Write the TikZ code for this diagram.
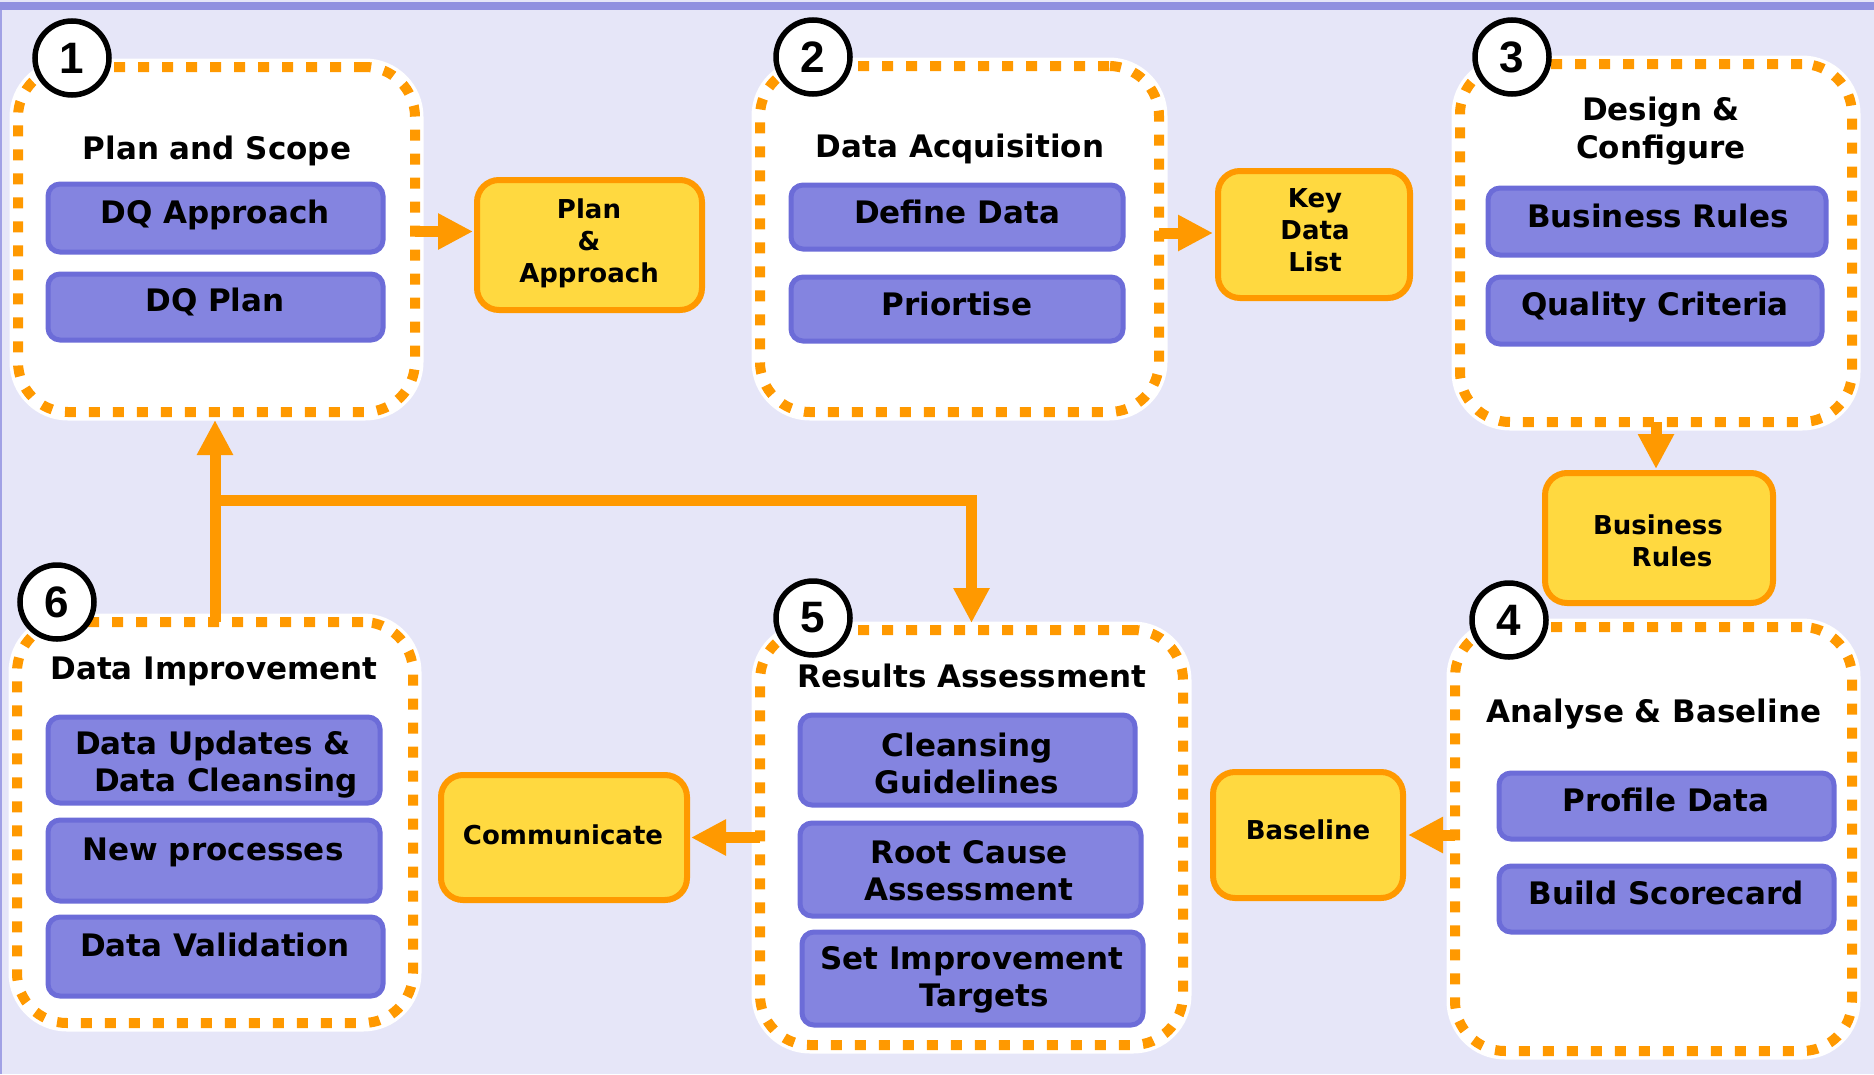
\documentclass[tikz,border=0pt]{standalone}
\usepackage{fontspec}
\setmainfont{DejaVu Sans}
\newfontfamily\numfont{Liberation Sans}
\usetikzlibrary{arrows.meta}

\definecolor{bgpurple}{RGB}{230,230,248}
\definecolor{strip}{RGB}{144,144,224}
\definecolor{orng}{RGB}{255,153,0}
\definecolor{yfill}{RGB}{255,217,64}
\definecolor{bfill}{RGB}{132,132,224}
\definecolor{bline}{RGB}{108,108,216}

\tikzset{
  panel/.style={rectangle, fill=white, draw=orng, line width=10pt,
    dash pattern=on 11pt off 13pt, rounded corners=50pt, inner sep=0pt, outer sep=0pt,
    preaction={draw=white, line width=17pt, solid}},
  stage/.style={circle, draw=black, fill=white, line width=5.5pt, minimum size=74pt,
    inner sep=0pt, outer sep=0pt, font=\numfont\bfseries\fontsize{44}{44}\selectfont},
  bbox/.style={rectangle, fill=bfill, draw=bline, line width=5pt, rounded corners=12pt,
    inner sep=0pt, outer sep=0pt},
  ybox/.style={rectangle, fill=yfill, draw=orng, line width=6pt, rounded corners=22pt,
    inner sep=0pt, outer sep=0pt},
  title/.style={inner sep=0pt, align=center, font=\bfseries\fontsize{31}{38}\selectfont},
  btext/.style={inner sep=0pt, align=center, font=\bfseries\fontsize{31}{37}\selectfont},
  ytext/.style={inner sep=0pt, align=center, font=\bfseries\fontsize{26}{32}\selectfont},
  flow/.style={draw=orng, line width=11pt, -{Triangle[length=35pt,width=34pt]}},
}

\begin{document}
\begin{tikzpicture}[x=1pt,y=-1pt]
\useasboundingbox (0,0) rectangle (1874,1074);
% canvas
\fill[bgpurple] (0,0) rectangle (1874,1074);
\fill[strip] (0,2) rectangle (1874,10);
\fill[strip!80!bgpurple] (0,10) rectangle (2,1074);

% stage panels
\node[panel, minimum width=397pt, minimum height=345pt] (p1) at (216.5,239.5) {};
\node[panel, minimum width=399pt, minimum height=346pt] (p2) at (959.5,239) {};
\node[panel, minimum width=392pt, minimum height=358pt] (p3) at (1656,243) {};
\node[panel, minimum width=397pt, minimum height=424pt] (p4) at (1653.5,839) {};
\node[panel, minimum width=423pt, minimum height=415pt] (p5) at (971.5,837.5) {};
\node[panel, minimum width=396pt, minimum height=401pt] (p6) at (215,822.5) {};

% panel titles
\node[title] (t1) at (217,151) {Plan and Scope};
\node[title] (t2) at (960,149) {Data Acquisition};
\node[title] (t3) at (1661,131) {Design \&\\Configure};
\node[title] (t4) at (1654,714) {Analyse \& Baseline};
\node[title] (t5) at (972,676) {Results Assessment};
\node[title] (t6) at (214,671) {Data Improvement};

% activity boxes
\node[bbox, minimum width=335pt, minimum height=68pt] (b11) at (215.5,218) {};
\node[bbox, minimum width=335pt, minimum height=66pt] (b12) at (215.5,307) {};
\node[bbox, minimum width=332pt, minimum height=64pt] (b21) at (957,217) {};
\node[bbox, minimum width=332pt, minimum height=64pt] (b22) at (957,309) {};
\node[bbox, minimum width=338pt, minimum height=67pt] (b31) at (1657,221.5) {};
\node[bbox, minimum width=334pt, minimum height=67pt] (b32) at (1655,310.5) {};
\node[bbox, minimum width=335pt, minimum height=66pt] (b41) at (1666.5,806) {};
\node[bbox, minimum width=335pt, minimum height=66pt] (b42) at (1666.5,899) {};
\node[bbox, minimum width=335pt, minimum height=90pt] (b51) at (967.5,760) {};
\node[bbox, minimum width=341pt, minimum height=93pt] (b52) at (970.5,869.5) {};
\node[bbox, minimum width=341pt, minimum height=93pt] (b53) at (972.5,978.5) {};
\node[bbox, minimum width=332pt, minimum height=86pt] (b61) at (214,760) {};
\node[bbox, minimum width=332pt, minimum height=81pt] (b62) at (214,860.5) {};
\node[bbox, minimum width=335pt, minimum height=79pt] (b63) at (215.5,956.5) {};

\node[btext] (l11) at (215,215) {DQ Approach};
\node[btext] (l12) at (215,302) {DQ Plan};
\node[btext] (l21) at (957,212) {Define Data};
\node[btext] (l22) at (957,304) {Priortise};
\node[btext] (l31) at (1658,216) {Business Rules};
\node[btext] (l32) at (1655,307) {Quality Criteria};
\node[btext] (l41) at (1666,800) {Profile Data};
\node[btext] (l42) at (1666,893) {Build Scorecard};
\node[btext] (l51) at (967,763) {Cleansing\\Guidelines};
\node[btext] (l52) at (969,871) {Root Cause\\Assessment};
\node[btext] (l53) at (972,980) {Set Improvement\\\hspace*{24pt}Targets};
\node[btext] (l61) at (213,765) {Data Updates \&\\\hspace*{26pt}Data Cleansing};
\node[btext] (l62) at (213,852) {New processes};
\node[btext] (l63) at (215,945) {Data Validation};

% deliverables
\node[ybox, minimum width=225pt, minimum height=130pt] (pa) at (589.5,245) {};
\node[ybox, minimum width=192pt, minimum height=127pt] (kdl) at (1314,234.5) {};
\node[ybox, minimum width=228pt, minimum height=130pt] (bry) at (1659,538) {};
\node[ybox, minimum width=190pt, minimum height=126pt] (bl) at (1308,835) {};
\node[ybox, minimum width=246pt, minimum height=125pt] (comm) at (564,837.5) {};

\node[ytext] (pat) at (589,243) {Plan\\\&\\Approach};
\node[ytext] (kdlt) at (1315,230) {Key\\Data\\List};
\node[ytext] (bryt) at (1658,541) {Business\\\hspace*{28pt}Rules};
\node[ytext] (blt) at (1308,830) {Baseline};
\node[ytext] (commt) at (563,835) {Communicate};

% flow between stages
\draw[flow, shorten >=4pt] ([yshift=8pt]p1.east) -- ([yshift=8pt]p1.east -| pa.west);
\draw[flow, shorten >=5pt] ([yshift=6pt]p2.east) -- ([yshift=6pt]p2.east -| kdl.west);
\draw[flow, shorten >=4pt] (p3.south) -- (p3.south |- bry.north);
\draw[flow, shorten >=5pt] (p4.west |- bl.east) -- (bl.east);
\draw[flow, shorten >=4pt] (p5.west) -- (comm.east);
\draw[flow, shorten >=8pt] (p6.north) -- (p6.north |- p1.south);
\coordinate (loop) at (971.5,500);
\draw[flow, shorten >=7pt] (loop -| p6.north) -- (loop) -- (p5.north);

% stage numbers
\node[stage] (c1) at (72,58) {1};
\node[stage] (c2) at (813,57) {2};
\node[stage] (c3) at (1512,57) {3};
\node[stage] (c4) at (1509,620) {4};
\node[stage] (c5) at (813,618) {5};
\node[stage] (c6) at (57,602) {6};
\end{tikzpicture}
\end{document}
